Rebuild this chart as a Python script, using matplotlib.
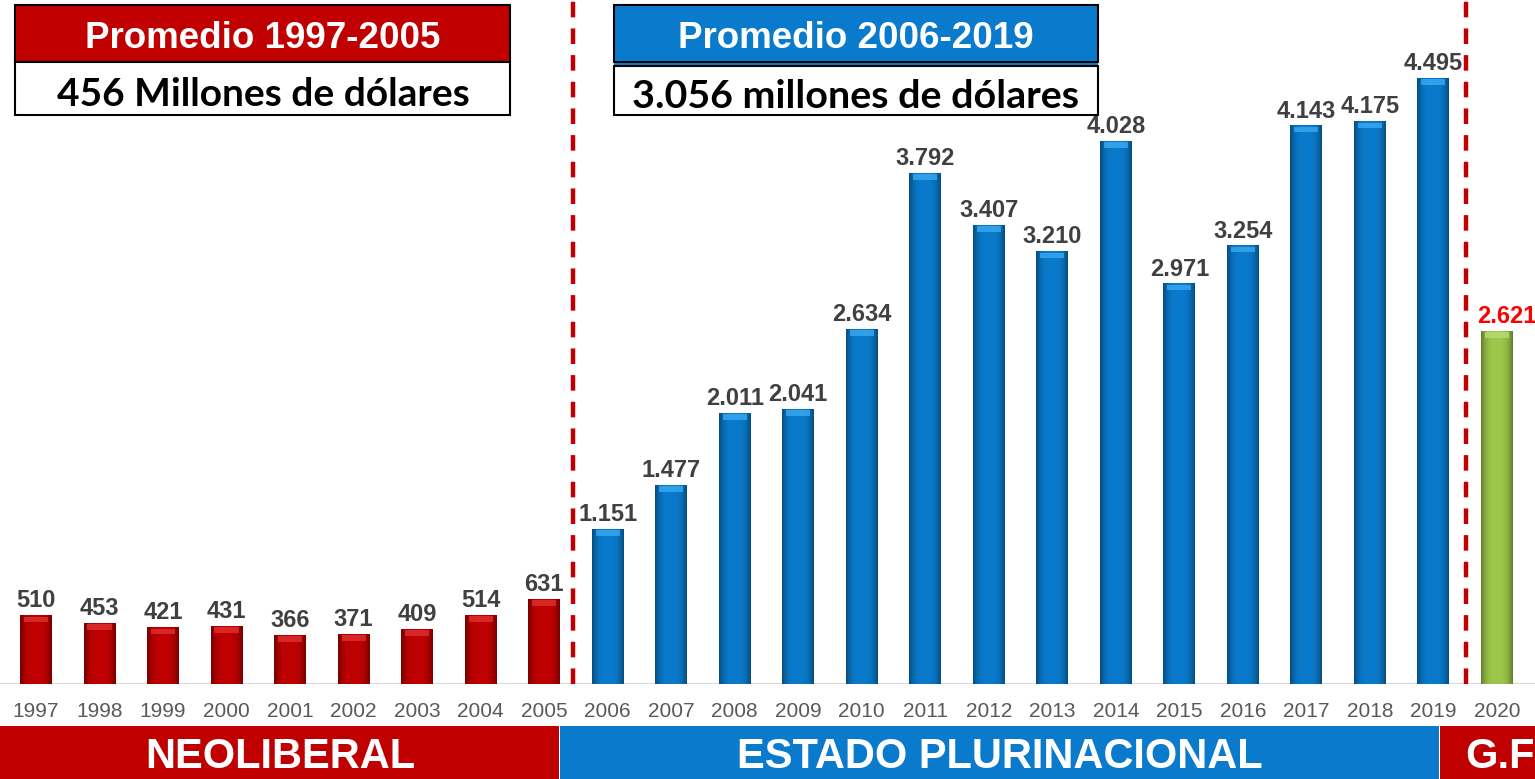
import numpy as np
import matplotlib
matplotlib.use("Agg")
import matplotlib.pyplot as plt
from matplotlib.patches import Rectangle
from matplotlib.colors import to_rgb

# data
years = [str(y) for y in range(1997, 2021)]
values = [510, 453, 421, 431, 366, 371, 409, 514, 631,
          1151, 1477, 2011, 2041, 2634, 3792, 3407, 3210, 4028, 2971, 3254, 4143, 4175, 4495,
          2621]
periods = ["neo"] * 9 + ["est"] * 14 + ["gf"]

RED = "#C00000"
BLUE = "#0A7BCC"
GREEN = "#9CC84A"
bar_colors = {"neo": RED, "est": BLUE, "gf": GREEN}
cap_colors = {"neo": "#E03030", "est": "#3AAAF0", "gf": "#B8DC70"}

W, H = 1535, 779
fig = plt.figure(figsize=(W / 100, H / 100), dpi=100)
fig.patch.set_facecolor("white")
plt.rcParams["font.family"] = ["Liberation Sans", "DejaVu Sans"]

base_px = 684
ax = fig.add_axes([0, (H - base_px) / H, 1, base_px / H])
ax.set_facecolor("none")
ymax = base_px / (606 / 4495)
ax.set_ylim(0, ymax)
ax.set_xlim(-0.567, 23.6)
for s in ax.spines.values():
    s.set_visible(False)
ax.set_yticks([])

x = np.arange(len(years))
cols = [bar_colors[p] for p in periods]
bars = ax.bar(x, values, width=0.5, color=cols, zorder=2, linewidth=0)

# fake 3d shading: darker sides, lighter top cap
t = np.linspace(0, 1, 64)
shade = 1 - 0.38 * np.abs(2 * t - 1) ** 3
cap_h = 7 / (606 / 4495)
for b, p in zip(bars, periods):
    rgb = np.array(to_rgb(bar_colors[p]))
    img = (shade[:, None] * rgb[None, :])[None, :, :]
    x0, w, h = b.get_x(), b.get_width(), b.get_height()
    im = ax.imshow(img, extent=[x0, x0 + w, 0, h], aspect="auto", zorder=3,
                   interpolation="bilinear")
    im.set_clip_path(b)
    ax.add_patch(Rectangle((x0 + w * 0.12, h - cap_h), w * 0.76, cap_h * 0.8,
                           color=cap_colors[p], zorder=4, linewidth=0, alpha=0.8))

ax.set_xlim(-0.567, 23.6)
ax.set_ylim(0, ymax)

for xi, v, p in zip(x, values, periods):
    lbl = f"{v:,}".replace(",", ".")
    c = "#FF0000" if p == "gf" else "#404040"
    dx = 7 if p == "gf" else 0
    ax.annotate(lbl, (xi, v), xytext=(dx, 2), textcoords="offset points",
                ha="center", va="bottom", fontsize=17, fontweight="bold", color=c, zorder=5)

ax.axhline(0, color="#D9D9D9", lw=1.5, zorder=1)
ax.set_xticks(x)
ax.set_xticklabels(years, fontsize=15, color="#595959")
ax.tick_params(axis="x", length=0, pad=13)

# dashed separators
for xs in [8.45, 22.51]:
    ax.axvline(xs, ymin=0, ymax=1, color=RED, lw=3.2, ls=(0, (3.5, 2.5)), zorder=6)


def fx(px):
    return px / W


def fy(py):
    return 1 - py / H


def frect(x0, y0, x1, y1, **kw):
    r = Rectangle((fx(x0), fy(y1)), fx(x1) - fx(x0), fy(y0) - fy(y1),
                  transform=fig.transFigure, **kw)
    fig.add_artist(r)
    return r


# bottom band
frect(0, 726, 559, 779, color=RED, lw=0)
frect(560, 726, 1439, 779, color=BLUE, lw=0)
frect(1440, 726, 1535, 779, color=RED, lw=0)
fig.text(fx(280), fy(757), "NEOLIBERAL", color="white", fontsize=30,
         fontweight="bold", ha="center", va="center")
fig.text(fx(1000), fy(757), "ESTADO PLURINACIONAL", color="white", fontsize=30,
         fontweight="bold", ha="center", va="center")
fig.text(fx(1465), fy(757), "G.F", color="white", fontsize=30,
         fontweight="bold", ha="left", va="center")

# average boxes
frect(15, 5, 510, 62, facecolor=RED, edgecolor="black", lw=1.5)
frect(15, 62, 510, 115, facecolor="white", edgecolor="black", lw=1.5)
fig.text(fx(263), fy(39), "Promedio 1997-2005", color="white", fontsize=26.5,
         fontweight="bold", ha="center", va="center")
fig.text(fx(263), fy(95), "456 Millones de dólares", color="black", fontsize=28,
         fontweight="bold", ha="center", va="center", family=["Lato", "DejaVu Sans"])

frect(614, 5, 1098, 62, facecolor=BLUE, edgecolor="black", lw=1.5)
frect(614, 63, 1098, 66, facecolor=BLUE, edgecolor="none", lw=0)
frect(614, 66, 1098, 115, facecolor="white", edgecolor="black", lw=1.5)
fig.text(fx(856), fy(39), "Promedio 2006-2019", color="white", fontsize=26.5,
         fontweight="bold", ha="center", va="center")
fig.text(fx(856), fy(96), "3.056 millones de dólares", color="black", fontsize=28.4,
         fontweight="bold", ha="center", va="center", family=["Lato", "DejaVu Sans"])

fig.savefig("out.png", dpi=100)
